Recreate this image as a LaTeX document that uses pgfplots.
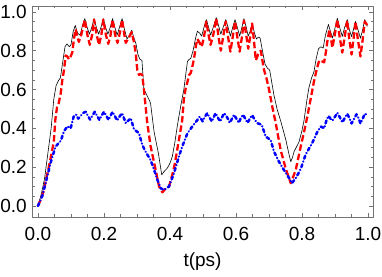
\documentclass[border=0pt]{standalone}
\usepackage{pgfplots}
\pgfplotsset{compat=1.18}
\usepackage{fontspec}
\setmainfont{Liberation Sans}
\begin{document}
\fontsize{19bp}{22bp}\selectfont
\begin{tikzpicture}
\useasboundingbox (-32bp,-60bp) rectangle (350bp,217bp);
\begin{axis}[
  at={(0,0)}, anchor=south west,
  scale only axis,
  width=341bp, height=211bp,
  xmin=-0.018, xmax=1.015,
  ymin=-0.057, ymax=1.03,
  xtick={0,0.2,0.4,0.6,0.8,1.0},
  ytick={0,0.2,0.4,0.6,0.8,1.0},
  minor tick num=3,
  tick align=inside,
  major tick length=4bp,
  minor tick length=2.5bp,
  every tick/.style={black!55, line width=0.5bp},
  axis line style={black!55, line width=0.7bp},
  xticklabels={0.0,0.2,0.4,0.6,0.8,1.0},
  yticklabels={0.0,0.2,0.4,0.6,0.8,1.0},
  /pgf/number format/assume math mode=true,
  tick label style={font=\fontsize{19bp}{22bp}\selectfont, inner sep=0pt},
  xticklabel shift=10bp,
  yticklabel shift=5bp,
  xlabel={t(ps)},
  xlabel style={at={(axis description cs:0.5,0)}, anchor=north, inner sep=0pt, yshift=-36bp, font=\fontsize{19bp}{22bp}\selectfont},
  line join=round,
]
\addplot[black, line width=0.6bp] coordinates {
(0,0)(0.01,0.06)(0.02,0.14)(0.03,0.27)(0.04,0.40)(0.048,0.55)(0.055,0.62)(0.062,0.645)(0.068,0.66)(0.075,0.74)(0.082,0.82)
(0.088,0.835)(0.095,0.82)(0.100,0.83)(0.107,0.90)(0.113,0.93)(0.120,0.89)(0.128,0.88)(0.135,0.93)(0.142,0.965)(0.149,0.92)
(0.156,0.885)(0.163,0.92)(0.170,0.965)(0.177,0.92)(0.184,0.885)(0.191,0.92)(0.198,0.965)(0.205,0.92)(0.212,0.885)(0.219,0.92)
(0.226,0.965)(0.233,0.92)(0.240,0.88)(0.247,0.92)(0.255,0.965)(0.262,0.91)(0.270,0.86)(0.277,0.88)(0.284,0.905)(0.290,0.87)
(0.297,0.835)(0.303,0.78)(0.309,0.755)(0.315,0.75)(0.321,0.60)(0.336,0.55)(0.341,0.53)(0.352,0.38)(0.365,0.27)(0.375,0.16)
(0.382,0.177)(0.392,0.195)(0.400,0.22)(0.407,0.254)(0.415,0.33)(0.422,0.41)(0.432,0.51)(0.442,0.60)(0.448,0.68)(0.453,0.745)
(0.458,0.755)(0.463,0.76)(0.470,0.80)(0.477,0.86)(0.483,0.90)(0.490,0.89)(0.496,0.875)(0.503,0.92)(0.510,0.96)(0.517,0.92)
(0.523,0.88)(0.531,0.92)(0.540,0.97)(0.547,0.93)(0.554,0.885)(0.561,0.92)(0.569,0.96)(0.576,0.92)(0.583,0.875)(0.590,0.92)
(0.597,0.96)(0.604,0.92)(0.611,0.875)(0.618,0.92)(0.624,0.965)(0.631,0.92)(0.637,0.875)(0.643,0.90)(0.649,0.94)(0.656,0.89)
(0.662,0.86)(0.668,0.87)(0.673,0.865)(0.680,0.80)(0.688,0.73)(0.695,0.71)(0.702,0.70)(0.708,0.64)(0.715,0.57)(0.725,0.495)
(0.735,0.44)(0.751,0.34)(0.760,0.27)(0.766,0.228)(0.771,0.25)(0.776,0.28)(0.785,0.31)(0.791,0.33)(0.800,0.39)(0.806,0.44)
(0.816,0.56)(0.821,0.61)(0.829,0.66)(0.836,0.69)(0.843,0.76)(0.850,0.81)(0.857,0.82)(0.864,0.813)(0.871,0.88)(0.880,0.935)
(0.886,0.90)(0.892,0.865)(0.899,0.91)(0.907,0.967)(0.914,0.92)(0.922,0.873)(0.929,0.92)(0.937,0.96)(0.943,0.91)(0.950,0.873)
(0.956,0.91)(0.962,0.95)(0.969,0.91)(0.977,0.864)(0.984,0.91)(0.990,0.96)(0.998,0.925)
};
\addplot[red, line width=2.3bp, dash pattern=on 6.5bp off 3bp] coordinates {
(0,0)(0.01,0.04)(0.018,0.08)(0.025,0.14)(0.033,0.20)(0.040,0.26)(0.048,0.33)(0.053,0.45)(0.058,0.51)(0.063,0.53)(0.069,0.58)
(0.074,0.65)(0.079,0.70)(0.084,0.775)(0.089,0.77)(0.094,0.755)(0.099,0.77)(0.104,0.79)(0.109,0.86)(0.114,0.91)(0.119,0.875)
(0.124,0.845)(0.131,0.88)(0.142,0.96)(0.150,0.88)(0.157,0.83)(0.164,0.88)(0.170,0.96)(0.178,0.88)(0.185,0.83)(0.192,0.88)
(0.198,0.96)(0.206,0.88)(0.213,0.835)(0.220,0.88)(0.226,0.96)(0.234,0.88)(0.241,0.84)(0.248,0.89)(0.255,0.96)(0.261,0.89)
(0.266,0.84)(0.273,0.86)(0.284,0.895)(0.290,0.85)(0.296,0.79)(0.301,0.70)(0.306,0.675)(0.311,0.68)(0.316,0.675)(0.321,0.60)
(0.331,0.43)(0.341,0.31)(0.356,0.19)(0.367,0.10)(0.377,0.07)(0.387,0.09)(0.397,0.10)(0.407,0.16)(0.415,0.22)(0.422,0.29)
(0.437,0.44)(0.442,0.55)(0.447,0.60)(0.453,0.64)(0.458,0.675)(0.463,0.685)(0.468,0.72)(0.473,0.76)(0.478,0.82)(0.483,0.86)
(0.490,0.84)(0.496,0.82)(0.503,0.87)(0.510,0.95)(0.517,0.88)(0.523,0.83)(0.531,0.88)(0.540,0.965)(0.547,0.87)(0.554,0.80)
(0.561,0.87)(0.569,0.95)(0.576,0.87)(0.583,0.795)(0.590,0.87)(0.597,0.95)(0.604,0.87)(0.611,0.795)(0.618,0.87)(0.624,0.955)
(0.631,0.88)(0.637,0.81)(0.643,0.87)(0.649,0.94)(0.655,0.84)(0.660,0.75)(0.667,0.78)(0.675,0.80)(0.680,0.75)(0.685,0.70)
(0.692,0.66)(0.700,0.60)(0.710,0.51)(0.720,0.43)(0.735,0.29)(0.751,0.19)(0.766,0.117)(0.781,0.186)(0.796,0.306)(0.806,0.38)
(0.816,0.46)(0.826,0.55)(0.836,0.64)(0.844,0.70)(0.852,0.75)(0.860,0.745)(0.867,0.74)(0.872,0.79)(0.877,0.85)(0.883,0.91)
(0.888,0.86)(0.892,0.815)(0.899,0.88)(0.907,0.96)(0.914,0.87)(0.922,0.79)(0.929,0.87)(0.937,0.955)(0.943,0.86)(0.950,0.78)
(0.956,0.86)(0.962,0.95)(0.969,0.86)(0.977,0.77)(0.984,0.86)(0.990,0.95)(0.998,0.93)
};
\addplot[blue, line width=2.5bp, line cap=round, dash pattern=on 3bp off 3bp on 0.01bp off 3bp] coordinates {
(0,0)(0.013,0.05)(0.028,0.15)(0.038,0.22)(0.053,0.305)(0.061,0.32)(0.069,0.335)(0.079,0.385)(0.089,0.41)(0.099,0.40)
(0.109,0.465)(0.116,0.47)(0.122,0.45)(0.130,0.465)(0.138,0.48)(0.145,0.485)(0.151,0.465)(0.158,0.445)(0.165,0.465)(0.172,0.485)
(0.179,0.465)(0.186,0.443)(0.193,0.465)(0.200,0.485)(0.207,0.465)(0.214,0.443)(0.220,0.465)(0.226,0.485)(0.233,0.463)(0.240,0.44)
(0.247,0.46)(0.255,0.478)(0.261,0.45)(0.266,0.426)(0.274,0.44)(0.281,0.452)(0.291,0.395)(0.306,0.375)(0.316,0.315)(0.326,0.28)
(0.341,0.237)(0.352,0.186)(0.362,0.134)(0.372,0.091)(0.382,0.082)(0.397,0.10)(0.412,0.168)(0.427,0.254)(0.437,0.306)(0.453,0.375)
(0.468,0.41)(0.483,0.443)(0.490,0.46)(0.499,0.436)(0.506,0.46)(0.513,0.478)(0.520,0.455)(0.527,0.435)(0.533,0.458)(0.538,0.478)
(0.545,0.455)(0.552,0.435)(0.558,0.458)(0.564,0.478)(0.569,0.468)(0.575,0.45)(0.581,0.428)(0.588,0.45)(0.594,0.47)(0.601,0.45)
(0.608,0.428)(0.614,0.45)(0.621,0.47)(0.628,0.45)(0.635,0.428)(0.642,0.45)(0.649,0.468)(0.656,0.445)(0.665,0.426)(0.678,0.418)
(0.690,0.357)(0.705,0.34)(0.715,0.28)(0.730,0.228)(0.745,0.186)(0.761,0.143)(0.769,0.117)(0.781,0.143)(0.796,0.19)(0.811,0.265)
(0.831,0.325)(0.846,0.38)(0.857,0.409)(0.867,0.40)(0.874,0.44)(0.880,0.464)(0.886,0.45)(0.892,0.44)(0.900,0.46)(0.907,0.48)
(0.915,0.455)(0.922,0.43)(0.930,0.455)(0.937,0.475)(0.944,0.45)(0.950,0.425)(0.958,0.45)(0.965,0.472)(0.972,0.45)(0.977,0.425)
(0.984,0.45)(0.990,0.475)(0.998,0.47)
};
\end{axis}
\end{tikzpicture}
\end{document}
